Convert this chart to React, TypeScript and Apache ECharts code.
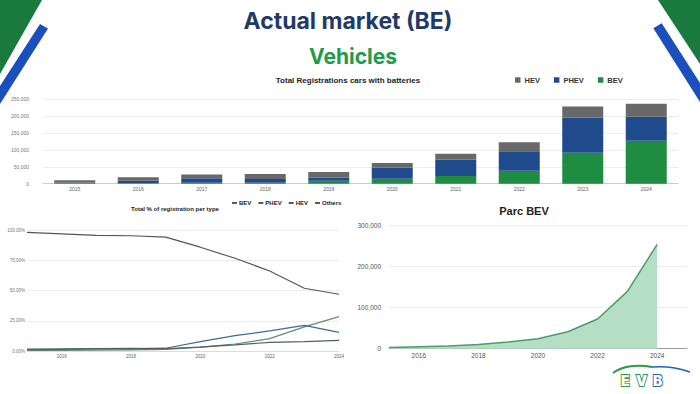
import React, { useEffect, useRef } from "react";
import * as echarts from "echarts";

const years = ["2015", "2016", "2017", "2018", "2019", "2020", "2021", "2022", "2023", "2024"];
const bevReg = [1000, 1500, 2500, 3000, 9000, 15000, 23000, 38000, 92000, 127000];
const phevReg = [2000, 7500, 13500, 11000, 9000, 33000, 48000, 58000, 103000, 71000];
const hevReg = [7000, 10000, 11000, 15000, 17000, 13000, 18000, 27000, 34000, 39000];

const bevPct = [0.5, 0.6, 0.8, 1.0, 1.3, 3.2, 5.8, 10.2, 20.0, 28.5];
const phevPct = [1.0, 1.3, 1.8, 1.8, 2.3, 7.7, 12.7, 16.6, 21.3, 15.5];
const hevPct = [1.5, 1.7, 2.0, 2.2, 2.0, 3.2, 5.0, 7.2, 7.7, 8.8];
const othersPct = [98.3, 97.0, 95.8, 95.5, 94.3, 86.0, 76.8, 66.3, 52.0, 47.0];
const pctLegend = ["BEV", "PHEV", "HEV", "Others"];

const parcYears = ["2015", "2016", "2017", "2018", "2019", "2020", "2021", "2022", "2023", "2024", "2025"];
const parcBev = [3000, 5000, 6500, 10000, 16000, 24000, 41000, 72000, 139000, 253000, null];

const FONT = "'Liberation Sans', Arial, sans-serif";

export default function App() {
  const ref = useRef<HTMLDivElement>(null);
  useEffect(() => {
    if (!ref.current) return;
    const chart = echarts.init(ref.current, undefined, { renderer: "svg" });
    const lightGrid = { show: true, lineStyle: { color: "#ececec", width: 1 } };

    // manual legend for the percentage chart
    const legendFont = "bold 6px " + FONT;
    const legendEls: any[] = [];
    let lx = 232;
    pctLegend.forEach((name) => {
      legendEls.push({ type: "rect", shape: { x: lx, y: 202.2, width: 5, height: 1.6 }, style: { fill: "#333333" }, silent: true });
      legendEls.push({
        type: "text",
        x: lx + 7,
        y: 203,
        style: { text: name, font: legendFont, fill: "#222", textVerticalAlign: "middle" },
      });
      const w = echarts.format.getTextRect ? (echarts.format as any).getTextRect?.(name, legendFont)?.width : undefined;
      const tw = typeof w === "number" ? w : name.length * 3.6;
      lx += 7 + tw + 7;
    });

    const option: any = {
      animation: false,
      backgroundColor: "#ffffff",
      textStyle: { fontFamily: FONT },
      legend: [
        {
          data: ["HEV", "PHEV", "BEV"],
          left: 515,
          top: 76,
          padding: 0,
          icon: "rect",
          itemWidth: 5.5,
          itemHeight: 5.5,
          itemGap: 14,
          textStyle: { fontSize: 7.5, fontWeight: "bold", color: "#333", fontFamily: FONT, padding: [0, 0, 0, -1] },
        },
      ],
      grid: [
        { left: 43, right: 22, top: 99.3, bottom: 394 - 183.7, containLabel: false },
        { left: 27, right: 361, top: 230.3, bottom: 394 - 351, containLabel: false },
        { left: 389, right: 13, top: 225, bottom: 394 - 348.7, containLabel: false },
      ],
      xAxis: [
        {
          gridIndex: 0,
          type: "category",
          data: years,
          axisLine: { show: true, lineStyle: { color: "#cccccc" } },
          axisTick: { show: false },
          axisLabel: { fontSize: 5, color: "#666", margin: 2.5 },
        },
        {
          gridIndex: 1,
          type: "category",
          data: years,
          boundaryGap: false,
          axisLine: { show: true, lineStyle: { color: "#dddddd" } },
          axisTick: { show: false },
          axisLabel: { fontSize: 4.5, color: "#666", margin: 2.5, interval: (i: number) => i % 2 === 1 },
        },
        {
          gridIndex: 2,
          type: "category",
          data: parcYears,
          boundaryGap: false,
          axisLine: { show: true, lineStyle: { color: "#9a9a9a" } },
          axisTick: { show: false },
          axisLabel: { fontSize: 6.5, color: "#555", margin: 3, interval: (i: number) => i % 2 === 1 && i < 10 },
        },
      ],
      yAxis: [
        {
          gridIndex: 0,
          type: "value",
          min: 0,
          max: 250000,
          interval: 50000,
          splitLine: lightGrid,
          axisLabel: {
            fontSize: 5,
            color: "#777",
            margin: 14,
            formatter: (v: number) => v.toLocaleString("en-US"),
          },
        },
        {
          gridIndex: 1,
          type: "value",
          min: 0,
          max: 100,
          interval: 25,
          splitLine: lightGrid,
          axisLabel: {
            fontSize: 4.5,
            color: "#777",
            margin: 2,
            formatter: (v: number) => v.toFixed(2) + "%",
          },
        },
        {
          gridIndex: 2,
          type: "value",
          min: 0,
          max: 300000,
          interval: 100000,
          splitLine: lightGrid,
          axisLabel: {
            fontSize: 6.5,
            color: "#555",
            margin: 8,
            formatter: (v: number) => v.toLocaleString("en-US"),
          },
        },
      ],
      series: [
        { name: "BEV", type: "bar", stack: "reg", xAxisIndex: 0, yAxisIndex: 0, data: bevReg, barWidth: 41, itemStyle: { color: "#1e8c41" } },
        { name: "PHEV", type: "bar", stack: "reg", xAxisIndex: 0, yAxisIndex: 0, data: phevReg, barWidth: 41, itemStyle: { color: "#1f4a8b" } },
        { name: "HEV", type: "bar", stack: "reg", xAxisIndex: 0, yAxisIndex: 0, data: hevReg, barWidth: 41, itemStyle: { color: "#686868" } },
        { name: "BEV share", type: "line", xAxisIndex: 1, yAxisIndex: 1, data: bevPct, symbol: "none", itemStyle: { color: "#5d8f6c" }, lineStyle: { color: "#5d8f6c", width: 1.2 } },
        { name: "PHEV share", type: "line", xAxisIndex: 1, yAxisIndex: 1, data: phevPct, symbol: "none", itemStyle: { color: "#3f6b9c" }, lineStyle: { color: "#3f6b9c", width: 1.2 } },
        { name: "HEV share", type: "line", xAxisIndex: 1, yAxisIndex: 1, data: hevPct, symbol: "none", itemStyle: { color: "#55605d" }, lineStyle: { color: "#55605d", width: 1.2 } },
        { name: "Others share", type: "line", xAxisIndex: 1, yAxisIndex: 1, data: othersPct, symbol: "none", itemStyle: { color: "#555555" }, lineStyle: { color: "#555555", width: 1.2 } },
        {
          name: "Parc BEV",
          type: "line",
          xAxisIndex: 2,
          yAxisIndex: 2,
          data: parcBev,
          symbol: "none",
          lineStyle: { color: "#4f9a6c", width: 1.5 },
          areaStyle: { color: "#b5dfc4", opacity: 1 },
        },
      ],
      graphic: [
        { type: "polygon", shape: { points: [[0, 0], [42, 0], [0, 74]] }, style: { fill: "#1a7a3e" }, silent: true },
        { type: "polygon", shape: { points: [[40, 24], [48, 28.5], [0, 104], [0, 86]] }, style: { fill: "#1a4fbd" }, silent: true },
        { type: "polygon", shape: { points: [[658, 0], [700, 0], [700, 64]] }, style: { fill: "#1a7a3e" }, silent: true },
        { type: "polygon", shape: { points: [[661.7, 23.3], [700, 83], [700, 102], [653.3, 28.3]] }, style: { fill: "#1a4fbd" }, silent: true },
        {
          type: "text",
          x: 348,
          y: 21,
          style: { text: "Actual market (BE)", font: "700 23px Inter, 'Noto Sans', sans-serif", fill: "#1f3a68", textAlign: "center", textVerticalAlign: "middle" },
        },
        {
          type: "text",
          x: 353,
          y: 56,
          style: { text: "Vehicles", font: "700 21px Inter, 'Noto Sans', sans-serif", fill: "#23994b", textAlign: "center", textVerticalAlign: "middle" },
        },
        {
          type: "text",
          x: 348,
          y: 80.7,
          style: { text: "Total Registrations cars with batteries", font: "bold 8px " + FONT, fill: "#222", textAlign: "center", textVerticalAlign: "middle" },
        },
        {
          type: "text",
          x: 175,
          y: 209,
          style: { text: "Total % of registration per type", font: "bold 6px " + FONT, fill: "#222", textAlign: "center", textVerticalAlign: "middle" },
        },
        {
          type: "text",
          x: 524,
          y: 211,
          style: { text: "Parc BEV", font: "bold 11px " + FONT, fill: "#222", textAlign: "center", textVerticalAlign: "middle" },
        },
        ...legendEls,
        {
          type: "bezierCurve",
          shape: { x1: 613, y1: 373, cpx1: 622, cpy1: 366, cpx2: 638, cpy2: 364, x2: 652, y2: 367 },
          style: { stroke: "#2a9a4a", lineWidth: 2, fill: "none" },
        },
        {
          type: "bezierCurve",
          shape: { x1: 652, y1: 367, cpx1: 664, cpy1: 366, cpx2: 676, cpy2: 367, x2: 690, y2: 372 },
          style: { stroke: "#1f62c0", lineWidth: 1.6, fill: "none" },
        },
        {
          type: "text",
          x: 621,
          y: 380,
          style: { text: "E", font: "900 14px Inter, sans-serif", fill: "#fff", stroke: "#2a9a4a", lineWidth: 1.8, textVerticalAlign: "middle" },
        },
        {
          type: "text",
          x: 636,
          y: 380,
          style: { text: "V", font: "900 14px Inter, sans-serif", fill: "#fff", stroke: "#2a8f6a", lineWidth: 1.8, textVerticalAlign: "middle" },
        },
        {
          type: "text",
          x: 653,
          y: 380,
          style: { text: "B", font: "900 14px Inter, sans-serif", fill: "#fff", stroke: "#1f62c0", lineWidth: 1.8, textVerticalAlign: "middle" },
        },
      ],
    };
    chart.setOption(option);
    return () => chart.dispose();
  }, []);
  return (
    <div
      ref={ref}
      style={{ position: "absolute", left: 0, top: 0, width: 700, height: 394, background: "#fff" }}
    />
  );
}
